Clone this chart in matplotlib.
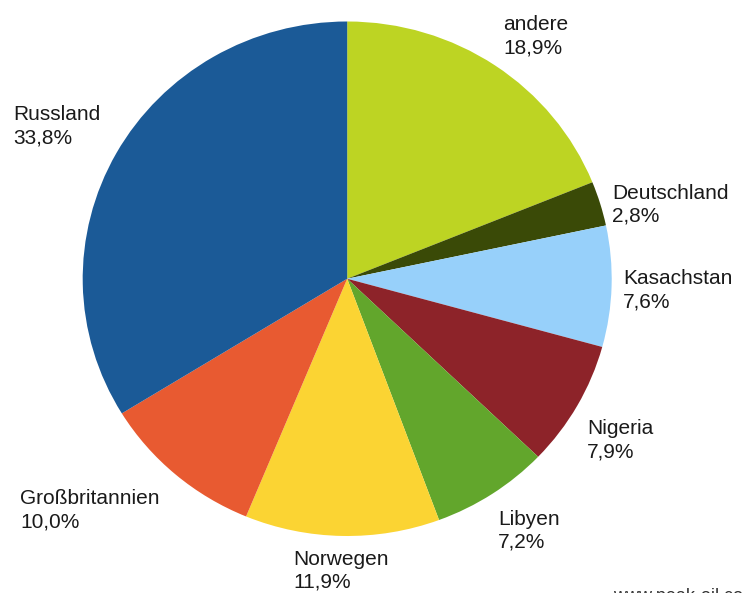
import matplotlib
matplotlib.use("Agg")
import matplotlib.pyplot as plt

# shares of oil imports, clockwise from 12 o'clock
countries = ["andere", "Deutschland", "Kasachstan", "Nigeria", "Libyen",
             "Norwegen", "Großbritannien", "Russland"]
shares = [18.9, 2.8, 7.6, 7.9, 7.2, 11.9, 10.0, 33.8]
colors = ["#BDD423", "#3A4A07", "#97D0FA", "#8D2329", "#62A62C",
          "#FBD433", "#E85A31", "#1B5A97"]

# label anchor (left x, baseline of the second line) in pixels of the 742x593 picture
label_px = [(503, 53), (612, 222), (623, 307), (587, 457), (498, 548),
            (293, 588), (20, 527), (13, 143)]

W, H = 742, 593
fig = plt.figure(figsize=(W / 100, H / 100), dpi=100)
fig.patch.set_facecolor("white")

# pie is slightly wider than tall in the original
ax = fig.add_axes([82.7 / W, (H - 536) / H, 529 / W, 514.5 / H])
ax.pie(shares, colors=colors, startangle=90, counterclock=False,
       wedgeprops=dict(linewidth=0))
ax.set_aspect("auto")
ax.set_xlim(-1, 1)
ax.set_ylim(-1, 1)
ax.axis("off")

for name, val, (px, py) in zip(countries, shares, label_px):
    txt = f"{name}\n{val:.1f}%".replace(".", ",")
    fig.text(px / W, 1 - py / H, txt, ha="left", va="baseline",
             fontsize=15, family="Liberation Sans", color="#1a1a1a",
             linespacing=1.25)

# watermark, cut off at the bottom edge like in the original
fig.text(613 / W, 1 - 601 / H, "www.peak-oil.com", ha="left", va="baseline",
         fontsize=13, family="Liberation Sans", color="#333333")

fig.savefig("out.png", dpi=100)
